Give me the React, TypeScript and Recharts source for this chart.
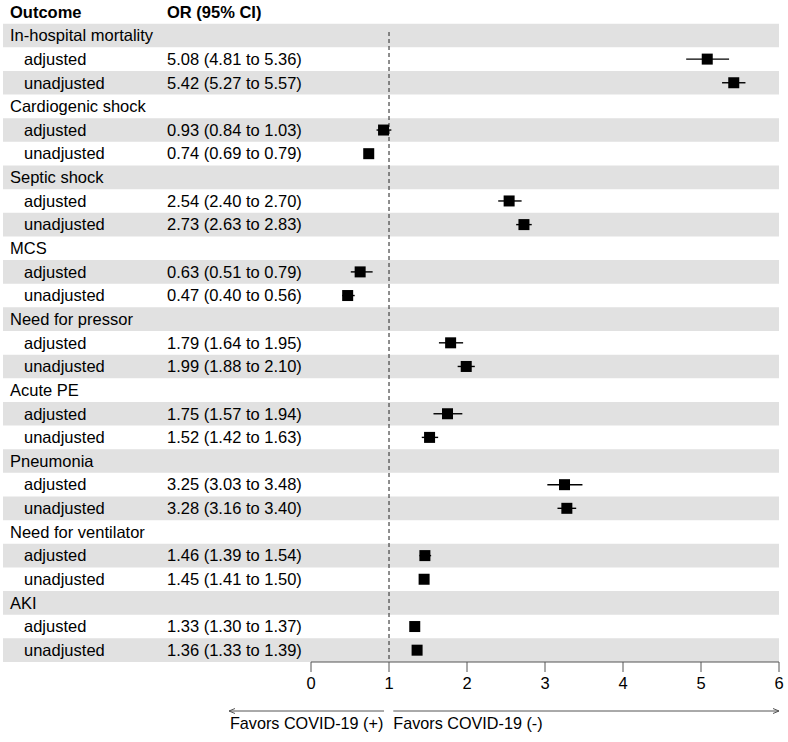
import React from 'react';
import {
  ComposedChart,
  Scatter,
  ErrorBar,
  XAxis,
  YAxis,
  ReferenceArea,
  ReferenceLine,
} from 'recharts';

const outcomes = [
  'In-hospital mortality',
  'Cardiogenic shock',
  'Septic shock',
  'MCS',
  'Need for pressor',
  'Acute PE',
  'Pneumonia',
  'Need for ventilator',
  'AKI',
];

const adjustedOR = [5.08, 0.93, 2.54, 0.63, 1.79, 1.75, 3.25, 1.46, 1.33];
const adjustedLow = [4.81, 0.84, 2.4, 0.51, 1.64, 1.57, 3.03, 1.39, 1.3];
const adjustedHigh = [5.36, 1.03, 2.7, 0.79, 1.95, 1.94, 3.48, 1.54, 1.37];

const unadjustedOR = [5.42, 0.74, 2.73, 0.47, 1.99, 1.52, 3.28, 1.45, 1.36];
const unadjustedLow = [5.27, 0.69, 2.63, 0.4, 1.88, 1.42, 3.16, 1.41, 1.33];
const unadjustedHigh = [5.57, 0.79, 2.83, 0.56, 2.1, 1.63, 3.4, 1.5, 1.39];

const xTicks = [0, 1, 2, 3, 4, 5, 6];

// left part of the x domain is room for the text columns
const X_MIN = -3.949;
const X_MAX = 6;
const FONT = '"Liberation Sans", Arial, Helvetica, sans-serif';
const FONT_SIZE = 16.5;

type TextRow = {
  x: number;
  y: number;
  label: string;
  orText: string;
  indent: boolean;
  bold: boolean;
};

type PointRow = {
  x: number;
  y: number;
  ci: [number, number];
};

const fmt = (v: number) => v.toFixed(2);

const textRows: TextRow[] = [
  { x: X_MIN, y: -1, label: 'Outcome', orText: 'OR (95% CI)', indent: false, bold: true },
];
const pointRows: PointRow[] = [];

outcomes.forEach((name, i) => {
  const base = i * 3;
  textRows.push({ x: X_MIN, y: base, label: name, orText: '', indent: false, bold: false });
  textRows.push({
    x: X_MIN,
    y: base + 1,
    label: 'adjusted',
    orText: `${fmt(adjustedOR[i])} (${fmt(adjustedLow[i])} to ${fmt(adjustedHigh[i])})`,
    indent: true,
    bold: false,
  });
  textRows.push({
    x: X_MIN,
    y: base + 2,
    label: 'unadjusted',
    orText: `${fmt(unadjustedOR[i])} (${fmt(unadjustedLow[i])} to ${fmt(unadjustedHigh[i])})`,
    indent: true,
    bold: false,
  });
  pointRows.push({
    x: adjustedOR[i],
    y: base + 1,
    ci: [adjustedOR[i] - adjustedLow[i], adjustedHigh[i] - adjustedOR[i]],
  });
  pointRows.push({
    x: unadjustedOR[i],
    y: base + 2,
    ci: [unadjustedOR[i] - unadjustedLow[i], unadjustedHigh[i] - unadjustedOR[i]],
  });
});

const rowCount = outcomes.length * 3;
const stripeRows = Array.from({ length: rowCount }, (_, r) => r).filter((r) => r % 2 === 0);

const TextShape = (props: any) => {
  const { cx, cy, payload } = props;
  const row = payload as TextRow;
  const weight = row.bold ? 'bold' : 'normal';
  return (
    <g fontFamily={FONT} fontSize={FONT_SIZE} fill='#000'>
      <text x={cx + (row.indent ? 21 : 7)} y={cy + 5.8} fontWeight={weight}>
        {row.label}
      </text>
      {row.orText && (
        <text x={cx + 164} y={cy + 5.8} fontWeight={weight}>
          {row.orText}
        </text>
      )}
    </g>
  );
};

const SquareShape = (props: any) => {
  const { cx, cy } = props;
  return <rect x={cx - 5.5} y={cy - 5.5} width={11} height={11} fill='#000' />;
};

const FavorsLabel = (props: any) => {
  const vb = props.viewBox;
  if (!vb) return null;
  const px = (v: number) => vb.x + ((v - X_MIN) / (X_MAX - X_MIN)) * vb.width;
  const lineY = vb.y + 49;
  const textY = vb.y + 66.5;
  const one = px(1);
  const leftEnd = 229;
  const rightEnd = px(6);
  return (
    <g fontFamily={FONT} fontSize={16.2} fill='#000'>
      <line x1={one - 5} y1={lineY} x2={leftEnd} y2={lineY} stroke='#555' strokeWidth={1} />
      <polyline
        points={`${leftEnd + 6},${lineY - 2.5} ${leftEnd},${lineY} ${leftEnd + 6},${lineY + 2.5}`}
        fill='none'
        stroke='#555'
        strokeWidth={1}
      />
      <line x1={one + 4.3} y1={lineY} x2={rightEnd} y2={lineY} stroke='#555' strokeWidth={1} />
      <polyline
        points={`${rightEnd - 6},${lineY - 2.5} ${rightEnd},${lineY} ${rightEnd - 6},${lineY + 2.5}`}
        fill='none'
        stroke='#555'
        strokeWidth={1}
      />
      <text x={one - 5.7} y={textY} textAnchor='end'>
        Favors COVID-19 (+)
      </text>
      <text x={one + 4.3} y={textY} textAnchor='start'>
        Favors COVID-19 (-)
      </text>
    </g>
  );
};

const App: React.FC = () => {
  return (
    <div style={{ position: 'absolute', left: 0, top: 0, background: '#fff' }}>
      <ComposedChart
        width={788}
        height={742}
        margin={{ top: 0, right: 9, bottom: 0, left: 3 }}
      >
        <XAxis
          type='number'
          dataKey='x'
          domain={[X_MIN, X_MAX]}
          ticks={xTicks}
          allowDataOverflow
          axisLine={false}
          tickLine={{ stroke: '#555' }}
          tickSize={10}
          tickMargin={5}
          height={80}
          tick={{ fontSize: FONT_SIZE, fill: '#000', fontFamily: FONT }}
          label={<FavorsLabel />}
        />
        <YAxis
          type='number'
          dataKey='y'
          domain={[-1.5, rowCount - 0.5]}
          reversed
          allowDataOverflow
          hide
        />
        {stripeRows.map((r) => (
          <ReferenceArea
            key={r}
            x1={X_MIN}
            x2={X_MAX}
            y1={r - 0.5}
            y2={r + 0.5}
            fill='#e1e1e1'
            fillOpacity={1}
            stroke='none'
          />
        ))}
        <ReferenceLine
          segment={[
            { x: 1, y: -0.15 },
            { x: 1, y: rowCount - 0.5 },
          ]}
          stroke='#444'
          strokeWidth={1.2}
          strokeDasharray='4 3'
        />
        <ReferenceLine
          segment={[
            { x: 0, y: rowCount - 0.5 },
            { x: 6, y: rowCount - 0.5 },
          ]}
          stroke='#555'
        />
        <Scatter
          data={textRows}
          shape={<TextShape />}
          isAnimationActive={false}
        />
        <Scatter
          data={pointRows}
          shape={<SquareShape />}
          fill='#000'
          isAnimationActive={false}
        >
          <ErrorBar
            dataKey='ci'
            direction='x'
            width={0}
            stroke='#000'
            strokeWidth={1.4}
            isAnimationActive={false}
          />
        </Scatter>
      </ComposedChart>
    </div>
  );
};

export default App;
